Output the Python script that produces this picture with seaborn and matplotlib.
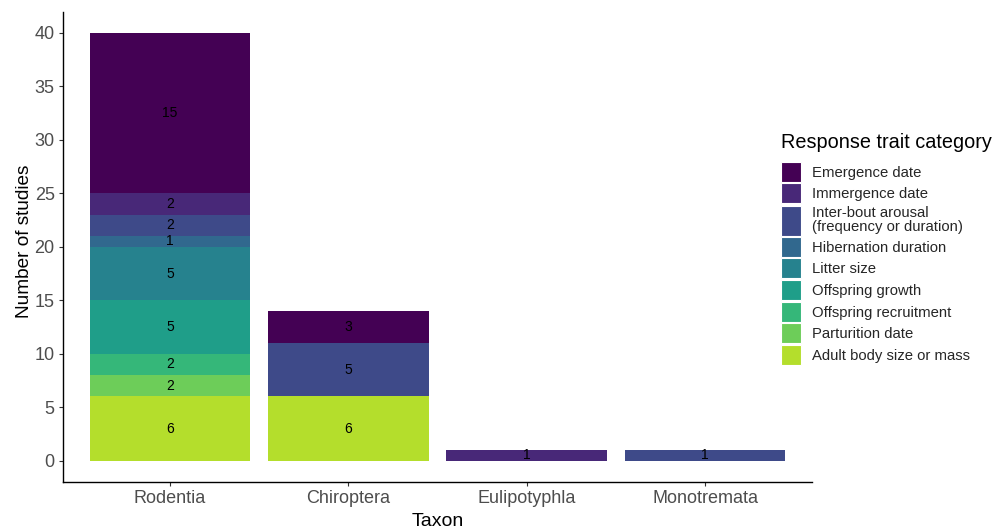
import matplotlib
matplotlib.use("Agg")
import matplotlib.pyplot as plt
import seaborn as sns
import numpy as np
import pandas as pd
from matplotlib.patches import Patch, Rectangle
from matplotlib.legend_handler import HandlerPatch

taxa = ["Rodentia", "Chiroptera", "Eulipotyphla", "Monotremata"]
traits = ["Emergence date", "Immergence date",
          "Inter-bout arousal\n(frequency or duration)", "Hibernation duration",
          "Litter size", "Offspring growth", "Offspring recruitment",
          "Parturition date", "Adult body size or mass"]
colors = ["#440154", "#482878", "#3E4A89", "#31688E", "#26828E",
          "#1F9E89", "#35B779", "#6DCD59", "#B4DE2C"]
# counts per trait (rows) for each taxon (columns)
counts = {
    "Emergence date":            [15, 3, 0, 0],
    "Immergence date":           [2, 0, 1, 0],
    "Inter-bout arousal\n(frequency or duration)": [2, 5, 0, 1],
    "Hibernation duration":      [1, 0, 0, 0],
    "Litter size":               [5, 0, 0, 0],
    "Offspring growth":          [5, 0, 0, 0],
    "Offspring recruitment":     [2, 0, 0, 0],
    "Parturition date":          [2, 0, 0, 0],
    "Adult body size or mass":   [6, 6, 0, 0],
}

sns.set_theme(style="white")
plt.rcParams["font.family"] = ["Liberation Sans", "DejaVu Sans"]

fig = plt.figure(figsize=(9.94, 5.28), dpi=100)
ax = fig.add_axes([63/994, 1-482/528, (812-63)/994, (482-11.6)/528])

base = np.zeros(len(taxa))
for trait, col in zip(traits[::-1], colors[::-1]):
    vals = np.array(counts[trait], dtype=float)
    df = pd.DataFrame({"Taxon": taxa, "n": vals})
    sns.barplot(data=df, x="Taxon", y="n", order=taxa, color=col,
                width=0.9, bottom=base, linewidth=0, saturation=1,
                errorbar=None, ax=ax)
    for i, v in enumerate(vals):
        if v > 0:
            ax.text(i, base[i] + v/2, f"{int(v)}", ha="center", va="center",
                    fontsize=10, color="black")
    base = base + vals

ax.set_xlim(-0.6, len(taxa) - 0.4)
ax.set_ylim(-2, 42)
ax.set_yticks(range(0, 41, 5))
for s in ["top", "right"]:
    ax.spines[s].set_visible(False)
for s in ["left", "bottom"]:
    ax.spines[s].set_color("black")
    ax.spines[s].set_linewidth(1.0)
ax.tick_params(axis="both", which="both", length=3, width=0.8, color="#333333",
               labelsize=13, labelcolor="#4D4D4D", pad=3,
               bottom=True, left=True)
ax.set_xlabel("Taxon", fontsize=14, color="black")
ax.set_ylabel("Number of studies", fontsize=13.7, color="black")
ax.xaxis.set_label_coords(0.5, (482 - 512.5) / 470.4)
ax.yaxis.set_label_coords((33 - 63) / 749, (482 - 241) / 470.4)
ax.grid(False)


def key_patch(legend, orig_handle, xdescent, ydescent, width, height, fontsize):
    side = 14.4
    h = 21.6 if getattr(orig_handle, "_tall", False) else side
    cx = width / 2 - xdescent
    cy = height / 2 - ydescent
    return Rectangle((cx - side / 2, cy - h / 2), side, h)


handles = []
for t, c in zip(traits, colors):
    p = Patch(facecolor=c, edgecolor="white", linewidth=0.8)
    p._tall = "\n" in t
    handles.append(p)

fig.text(781/994, 1-142/528, "Response trait category", fontsize=14.3,
         color="black", ha="left", va="center")
leg = fig.legend(handles, traits, loc="upper left",
                 bbox_to_anchor=(781/994, 1-163/528), frameon=False,
                 fontsize=10.75, handlelength=1.34, handleheight=1.44,
                 labelspacing=0.27, handletextpad=0.75,
                 borderaxespad=0, borderpad=0,
                 handler_map={Patch: HandlerPatch(patch_func=key_patch)})
for t in leg.get_texts():
    t.set_linespacing(0.95)

fig.savefig("out.png", dpi=100)
